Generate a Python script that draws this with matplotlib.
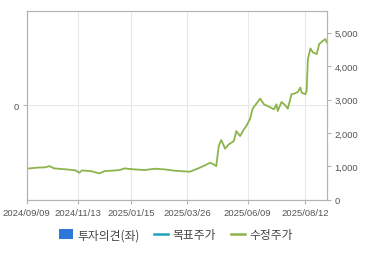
import matplotlib
matplotlib.use("Agg")
import matplotlib.pyplot as plt
from matplotlib.lines import Line2D
from matplotlib.patches import Patch

plt.rcParams['font.family'] = ['Liberation Sans', 'Noto Sans CJK KR', 'DejaVu Sans']

# trading-day index -> adjusted price
day_idx = [0, 8, 15, 18, 22, 32, 39, 42, 44, 51, 58, 62, 68, 74, 78, 86, 94, 102,
           110, 118, 126, 130, 136, 142, 146, 149, 151, 153, 155, 156, 158, 161, 165,
           167, 170, 173, 175, 178, 180, 182, 186, 189, 193, 197, 199, 200, 203, 206, 208,
           211, 214, 216, 218, 219, 222, 223, 224, 226, 228, 231, 233, 236, 238, 239]
price = [934, 964, 975, 1012, 943, 913, 883, 814, 883, 862, 793, 862, 875, 893, 943,
         913, 893, 934, 913, 874, 853, 844, 934, 1033, 1114, 1063, 1012, 1611,
         1790, 1712, 1533, 1662, 1760, 2060, 1910, 2110, 2210, 2430, 2730, 2830, 3030, 2860,
         2790, 2710, 2860, 2660, 2930, 2830, 2730, 3160, 3190, 3230, 3360, 3210, 3160, 3260,
         4210, 4530, 4410, 4360, 4660, 4760, 4810, 4710]

tick_idx = [0, 41, 83, 128, 176, 222]
tick_labels = ['2024/09/09', '2024/11/13', '2025/01/15', '2025/03/26', '2025/06/09', '2025/08/12']
price_ticks = [0, 1000, 2000, 3000, 4000, 5000]

spine_c = '#b4b4b4'
text_c = '#555555'

fig = plt.figure(figsize=(3.7, 2.55), dpi=100)
ax = fig.add_axes([0.072, 0.212, 0.811, 0.741])
ax2 = ax.twinx()

ax.set_xlim(0, 239)
ax.set_ylim(-1, 1)
ax.set_yticks([0])
ax.set_yticklabels(['0'])
ax.set_xticks(tick_idx)
ax.set_xticklabels(tick_labels)
ax.grid(True, color='#e8e8e8', linewidth=0.8)
ax.set_axisbelow(True)

ax2.plot(day_idx, price, color='#8db44c', linewidth=1.3)
ax2.set_ylim(0, 5650)
ax2.set_yticks(price_ticks)
ax2.set_yticklabels([f'{v:,}' for v in price_ticks])

for a in (ax, ax2):
    for s in a.spines.values():
        s.set_color(spine_c)
        s.set_linewidth(0.8)
    a.tick_params(colors=spine_c, labelcolor=text_c, labelsize=6.8, length=3, width=0.8, pad=2.5)

handles = [Patch(facecolor='#2b78d8', edgecolor='none'),
           Line2D([], [], color='#1fa3b8', linewidth=1.8),
           Line2D([], [], color='#8db44c', linewidth=1.8)]
fig.legend(handles, ['투자의견(좌)', '목표주가', '수정주가'], loc='center',
           bbox_to_anchor=(0.475, 0.075), ncol=3, frameon=False,
           prop={'family': ['Noto Sans CJK KR', 'DejaVu Sans'], 'size': 8.5},
           handlelength=1.2, handleheight=0.9, handletextpad=0.4, columnspacing=1.2,
           labelcolor='#444444')

fig.savefig('out.png', dpi=100, facecolor='white')
